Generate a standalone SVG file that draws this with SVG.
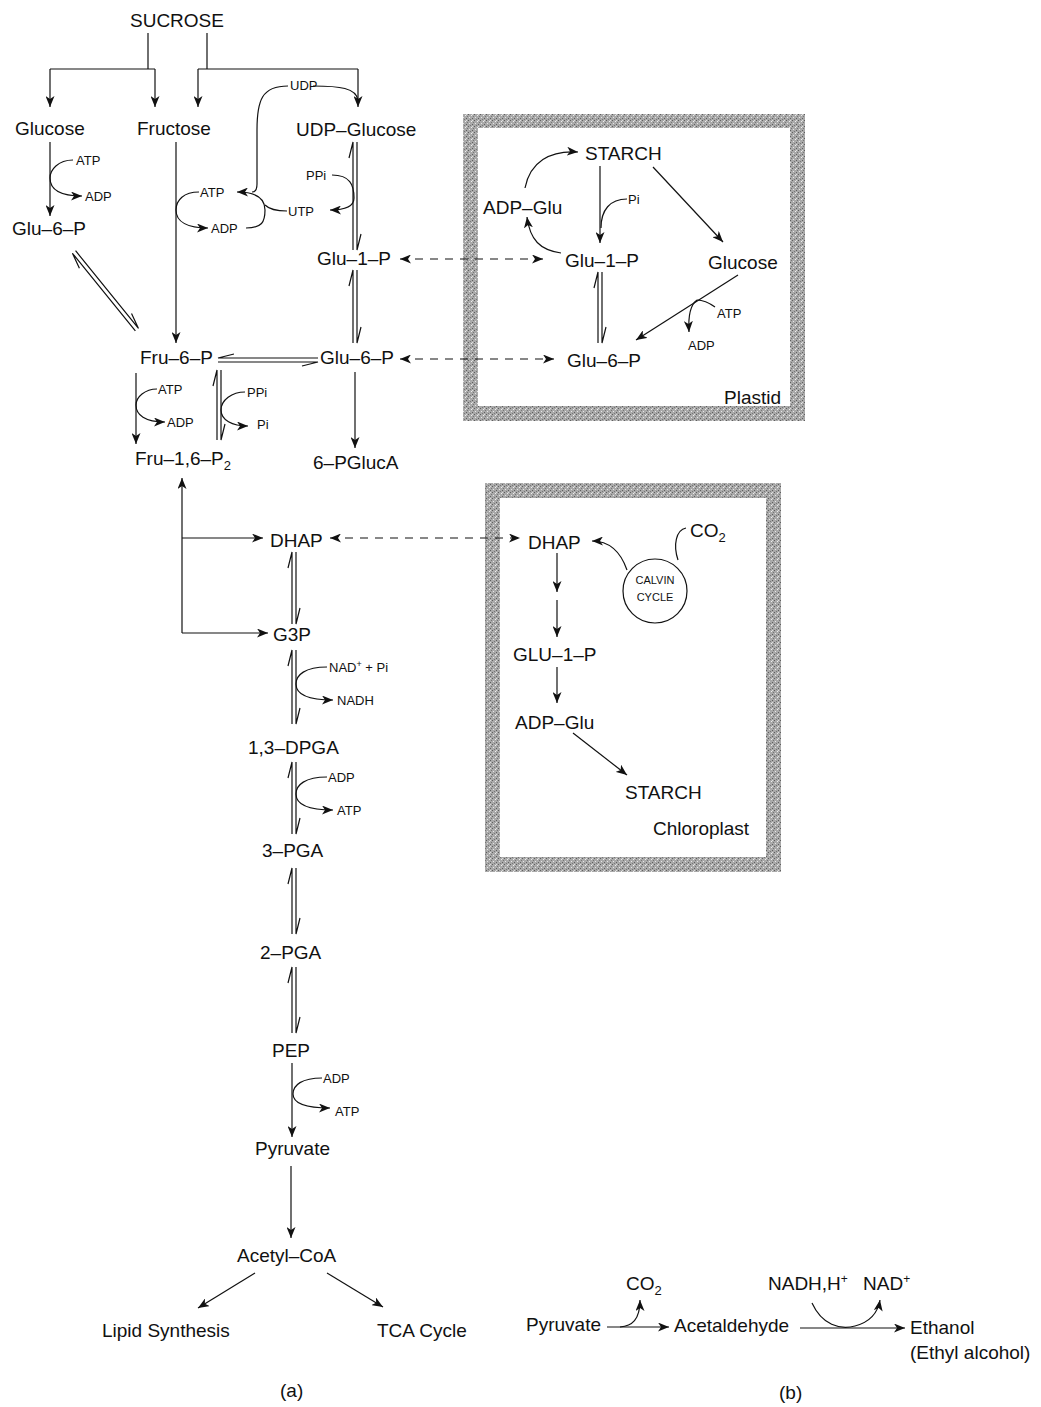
<svg xmlns="http://www.w3.org/2000/svg" width="1041" height="1407" viewBox="0 0 1041 1407">
<defs>
<marker id="ah" markerUnits="userSpaceOnUse" markerWidth="11" markerHeight="9" viewBox="0 0 11 9" refX="11" refY="4.5" orient="auto-start-reverse"><path d="M0,0 L11,4.5 L0,9 L3,4.5 Z" fill="#111"/></marker>
<pattern id="stip" width="6" height="6" patternUnits="userSpaceOnUse"><rect width="6" height="6" fill="#a9a9a9"/><rect x="0" y="0" width="1" height="1" fill="#5e5e5e"/><rect x="3" y="1" width="1" height="1" fill="#eee"/><rect x="1" y="3" width="1" height="1" fill="#e6e6e6"/><rect x="4" y="4" width="1" height="1" fill="#5e5e5e"/><rect x="2" y="5" width="1" height="1" fill="#777"/><rect x="5" y="2" width="1" height="1" fill="#777"/><rect x="4" y="0" width="1" height="1" fill="#ddd"/></pattern>
</defs>
<style>
text{font-family:"Liberation Sans",Arial,sans-serif;fill:#111}
.n{font-size:19px}
.s{font-size:13px}
.l{fill:none;stroke:#111;stroke-width:1.2}
.a{fill:none;stroke:#111;stroke-width:1.2;marker-end:url(#ah)}
.d{fill:none;stroke:#111;stroke-width:1.2;stroke-dasharray:8 7;marker-start:url(#ah);marker-end:url(#ah)}
.box{fill:url(#stip);fill-rule:evenodd}
</style>
<rect width="1041" height="1407" fill="#fff"/>
<g id="plastid-box"><path class="box" d="M463 114 H805 V421 H463 Z M478 128 V406 H790 V128 Z"/></g>
<g id="chloroplast-box"><path class="box" d="M485 483 H781 V872 H485 Z M500 498 V857 H766 V498 Z"/></g>
<g id="connectors">
<path class="l" d="M148 33 V69 M50 69 H155 M207 33 V69 M198 69 H358"/>
<path class="a" d="M50 69 V107"/><path class="a" d="M155 69 V107"/><path class="a" d="M198 69 V107"/><path class="a" d="M358 69 V107"/>
<path class="l" d="M313 86 C340 86 356 88 358 100"/>
<path class="l" d="M288 86 C262 86 257 100 257 130 V184 C257 189 256 192 252 192"/>
<path class="a" d="M246 228 C262 228 265 222 265 210 C265 200 258 192 237 192"/>
<path class="l" d="M287 211 C275 211 268 208 265 205"/>
<path class="a" d="M332 175 C350 175 354 185 354 198 C354 207 345 210 330 210"/>
<path class="a" d="M50 142 V216"/>
<path class="a" d="M73 160 C58 160 50 170 50 178 C50 190 60 196 82 196"/>
<path class="a" d="M176 142 V343"/>
<path class="a" d="M199 192 C184 192 176 200 176 210 C176 222 188 228 208 228"/>
<path class="l" d="M353 250 V142 L349 158 M357 142 V250 L361 234"/>
<path class="l" d="M353 343 V270 L349 286 M357 270 V343 L361 327"/>
<path class="l" d="M218 362 H318 L302 366 M318 358 H218 L234 354"/>
<path class="l" transform="translate(74,252) rotate(-39)" d="M-2 100 V0 L-6 16 M2 0 V100 L6 84"/>
<path class="d" d="M400 259 H543"/>
<path class="d" d="M400 359 H554"/>
<path class="a" d="M355 372 V448"/>
<path class="a" d="M136 373 V444"/>
<path class="a" d="M157 389 C145 389 136 397 136 405 C136 415 145 422 165 422"/>
<path class="l" d="M217 440 V370 L213 386 M221 370 V440 L225 424"/>
<path class="a" d="M245 392 C232 392 221 400 221 410 C221 420 232 426 248 426"/>
<path class="a" d="M182 633 V478"/>
<path class="a" d="M182 538 H263"/>
<path class="a" d="M182 633 H268"/>
<path class="d" d="M330 538 H520"/>
<path class="l" d="M292 624 V552 L288 568 M296 552 V624 L300 608"/>
<path class="l" d="M292 724 V650 L288 666 M296 650 V724 L300 708"/>
<path class="a" d="M327 667 C305 667 296 675 296 684 C296 694 308 700 333 700"/>
<path class="l" d="M292 834 V762 L288 778 M296 762 V834 L300 818"/>
<path class="a" d="M327 777 C305 777 296 785 296 794 C296 804 308 810 333 810"/>
<path class="l" d="M292 934 V868 L288 884 M296 868 V934 L300 918"/>
<path class="l" d="M292 1033 V967 L288 983 M296 967 V1033 L300 1017"/>
<path class="a" d="M292 1063 V1137"/>
<path class="a" d="M322 1078 C302 1078 293 1085 293 1094 C293 1103 304 1108 330 1108"/>
<path class="a" d="M291 1166 V1238"/>
<path class="a" d="M255 1273 L198 1308"/>
<path class="a" d="M327 1273 L383 1307"/>
<path class="a" d="M525 188 C530 162 550 150 578 152"/>
<path class="a" d="M561 253 C540 250 530 240 527 217"/>
<path class="a" d="M600 166 V243"/>
<path class="l" d="M627 199 C610 199 601 210 601 228"/>
<path class="a" d="M653 167 L723 242"/>
<path class="l" d="M598 343 V272 L594 288 M602 272 V343 L606 327"/>
<path class="a" d="M738 275 L636 340"/>
<path class="l" d="M715 307 C708 302 702 300 697 300"/>
<path class="a" d="M697 300 C690 305 688 315 689 332"/>
<path class="a" d="M627 570 C620 550 607 541 592 541"/>
<path class="l" d="M686 528 C676 530 673 545 678 560"/>
<path class="a" d="M557 553 V592"/>
<path class="a" d="M557 600 V637"/>
<path class="a" d="M557 667 V703"/>
<path class="a" d="M573 733 L627 775"/>
<path class="a" d="M607 1327 H669"/>
<path class="a" d="M620 1327 C632 1326 640 1320 640 1300"/>
<path class="a" d="M800 1328 H905"/>
<path class="a" d="M812 1303 C822 1325 840 1330 855 1326 C870 1322 878 1312 880 1300"/>
</g>
<g id="node-sucrose"><text class="n" x="130" y="27">SUCROSE</text></g>
<g id="node-glucose"><text class="n" x="15" y="135">Glucose</text></g>
<g id="node-fructose"><text class="n" x="137" y="135">Fructose</text></g>
<g id="node-udpglucose"><text class="n" x="296" y="136">UDP–Glucose</text></g>
<g id="node-glu6p-left"><text class="n" x="12" y="235">Glu–6–P</text></g>
<g id="node-glu1p"><text class="n" x="317" y="265">Glu–1–P</text></g>
<g id="node-fru6p"><text class="n" x="140" y="364">Fru–6–P</text></g>
<g id="node-glu6p"><text class="n" x="320" y="364">Glu–6–P</text></g>
<g id="node-fru16p2"><text class="n" x="135" y="465">Fru–1,6–P<tspan font-size="13" dy="5">2</tspan></text></g>
<g id="node-6pgluca"><text class="n" x="313" y="469">6–PGlucA</text></g>
<g id="node-dhap"><text class="n" x="270" y="547">DHAP</text></g>
<g id="node-g3p"><text class="n" x="273" y="641">G3P</text></g>
<g id="node-13dpga"><text class="n" x="248" y="754">1,3–DPGA</text></g>
<g id="node-3pga"><text class="n" x="262" y="857">3–PGA</text></g>
<g id="node-2pga"><text class="n" x="260" y="959">2–PGA</text></g>
<g id="node-pep"><text class="n" x="272" y="1057">PEP</text></g>
<g id="node-pyruvate"><text class="n" x="255" y="1155">Pyruvate</text></g>
<g id="node-acetylcoa"><text class="n" x="237" y="1262">Acetyl–CoA</text></g>
<g id="node-lipid"><text class="n" x="102" y="1337">Lipid Synthesis</text></g>
<g id="node-tca"><text class="n" x="377" y="1337">TCA Cycle</text></g>
<g id="label-a"><text class="n" x="280" y="1397">(a)</text></g>
<g id="cofactors-a">
<text class="s" x="76" y="165">ATP</text>
<text class="s" x="85" y="201">ADP</text>
<text class="s" x="200" y="197">ATP</text>
<text class="s" x="211" y="233">ADP</text>
<text class="s" x="290" y="90" font-size="12">UDP</text>
<text class="s" x="306" y="180">PPi</text>
<text class="s" x="288" y="216">UTP</text>
<text class="s" x="158" y="394">ATP</text>
<text class="s" x="167" y="427">ADP</text>
<text class="s" x="247" y="397">PPi</text>
<text class="s" x="257" y="429">Pi</text>
<text class="s" x="329" y="672">NAD<tspan font-size="9" dy="-5">+</tspan><tspan dy="5"> + Pi</tspan></text>
<text class="s" x="337" y="705">NADH</text>
<text class="s" x="328" y="782">ADP</text>
<text class="s" x="337" y="815">ATP</text>
<text class="s" x="323" y="1083">ADP</text>
<text class="s" x="335" y="1116">ATP</text>
</g>
<g id="node-plastid-starch"><text class="n" x="585" y="160">STARCH</text></g>
<g id="node-plastid-adpglu"><text class="n" x="483" y="214">ADP–Glu</text></g>
<g id="node-plastid-glu1p"><text class="n" x="565" y="267">Glu–1–P</text></g>
<g id="node-plastid-glucose"><text class="n" x="708" y="269">Glucose</text></g>
<g id="node-plastid-glu6p"><text class="n" x="567" y="367">Glu–6–P</text></g>
<g id="label-plastid"><text class="n" x="724" y="404">Plastid</text>
<text class="s" x="628" y="204">Pi</text>
<text class="s" x="717" y="318">ATP</text>
<text class="s" x="688" y="350">ADP</text></g>
<g id="node-chl-dhap"><text class="n" x="528" y="549">DHAP</text></g>
<g id="node-calvin"><circle cx="655" cy="591" r="32" fill="#fff" stroke="#111" stroke-width="1.2"/><text x="655" y="584" font-size="11" text-anchor="middle">CALVIN</text><text x="655" y="601" font-size="11" text-anchor="middle">CYCLE</text></g>
<g id="node-chl-co2"><text class="n" x="690" y="537">CO<tspan font-size="13" dy="5">2</tspan></text></g>
<g id="node-chl-glu1p"><text class="n" x="513" y="661">GLU–1–P</text></g>
<g id="node-chl-adpglu"><text class="n" x="515" y="729">ADP–Glu</text></g>
<g id="node-chl-starch"><text class="n" x="625" y="799">STARCH</text></g>
<g id="label-chloroplast"><text class="n" x="653" y="835">Chloroplast</text></g>
<g id="node-b-pyruvate"><text class="n" x="526" y="1331">Pyruvate</text></g>
<g id="node-b-co2"><text class="n" x="626" y="1290">CO<tspan font-size="13" dy="5">2</tspan></text></g>
<g id="node-b-acetaldehyde"><text class="n" x="674" y="1332">Acetaldehyde</text></g>
<g id="node-b-nadh"><text class="n" x="768" y="1290">NADH,H<tspan font-size="12" dy="-7">+</tspan></text></g>
<g id="node-b-nad"><text class="n" x="863" y="1290">NAD<tspan font-size="12" dy="-7">+</tspan></text></g>
<g id="node-b-ethanol"><text class="n" x="910" y="1334">Ethanol</text><text class="n" x="910" y="1359">(Ethyl alcohol)</text></g>
<g id="label-b"><text class="n" x="779" y="1399">(b)</text></g>
</svg>
